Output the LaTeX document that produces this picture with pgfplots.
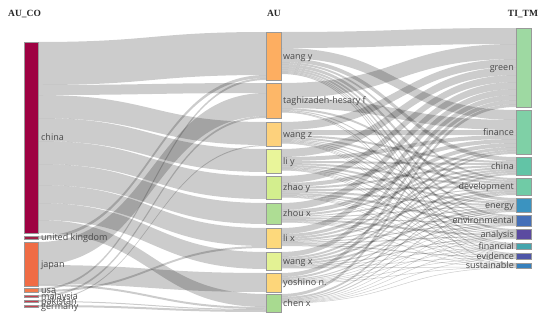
\documentclass[border=0pt]{standalone}
\usepackage{pgfplots}
\pgfplotsset{compat=1.18}
\usepackage{fontspec}
\setmainfont{Open Sans}
\newfontfamily\titlefont{Liberation Serif}
\definecolor{lab}{RGB}{72,72,72}
% left column colours
\definecolor{cChina}{HTML}{9E0142}
\definecolor{cUK}{HTML}{A01F45}
\definecolor{cJapan}{HTML}{F06C45}
\definecolor{cUSA}{HTML}{F27B4C}
\definecolor{cMal}{HTML}{C8404F}
\definecolor{cPak}{HTML}{C23B4C}
\definecolor{cGer}{HTML}{C4424F}
% middle column colours
\definecolor{cWangy}{HTML}{FDAE61}
\definecolor{cTaghi}{HTML}{FDB768}
\definecolor{cWangz}{HTML}{FDD17C}
\definecolor{cLiy}{HTML}{E9F59A}
\definecolor{cZhaoy}{HTML}{D3EE8E}
\definecolor{cZhoux}{HTML}{AEDD94}
\definecolor{cLix}{HTML}{FDD97C}
\definecolor{cWangx}{HTML}{E3F294}
\definecolor{cYosh}{HTML}{FDD67A}
\definecolor{cChenx}{HTML}{A8DA90}
% right column colours
\definecolor{tGreen}{HTML}{9ED9A2}
\definecolor{tFin}{HTML}{7FD0A6}
\definecolor{tChina}{HTML}{62C4A6}
\definecolor{tDev}{HTML}{70CBA6}
\definecolor{tEne}{HTML}{3B93C0}
\definecolor{tEnv}{HTML}{4570B8}
\definecolor{tAna}{HTML}{5B4BA0}
\definecolor{tFinl}{HTML}{45A5AD}
\definecolor{tEvi}{HTML}{4E56A8}
\definecolor{tSus}{HTML}{3680BC}

\tikzset{linkc/.style={fill=black,fill opacity=0.2,draw=none},
  lbl/.style={font=\fontsize{9}{9}\selectfont,text=lab,inner sep=0pt,text height=1.45ex,text depth=0.3ex},
  ttl/.style={font=\titlefont\bfseries\fontsize{9.5}{9.5}\selectfont,text=black!85,inner sep=0pt}}

\makeatletter
\newcommand\initnode[2]{\expandafter\xdef\csname nout@#1\endcsname{#2}\expandafter\xdef\csname nin@#1\endcsname{#2}}
\gdef\linklist{}
\newcommand\addlink[5]{%
  \edef\ys{\csname nout@#3\endcsname}%
  \edef\yt{\csname nin@#4\endcsname}%
  \pgfmathsetmacro\ysb{\ys+#5}%
  \pgfmathsetmacro\ytb{\yt+#5}%
  \pgfmathsetmacro\xm{(#1+#2)/2}%
  \expandafter\xdef\csname nout@#3\endcsname{\ysb}%
  \expandafter\xdef\csname nin@#4\endcsname{\ytb}%
  \xdef\linklist{\unexpanded\expandafter{\linklist}\noexpand\fill[linkc] (axis cs:#1,\ys) .. controls (axis cs:\xm,\ys) and (axis cs:\xm,\yt) .. (axis cs:#2,\yt) -- (axis cs:#2,\ytb) .. controls (axis cs:\xm,\ytb) and (axis cs:\xm,\ysb) .. (axis cs:#1,\ysb) -- cycle;}%
}
\makeatother

\initnode{china}{42}\initnode{uk}{236}\initnode{japan}{242}\initnode{usa}{288}
\initnode{malaysia}{295}\initnode{pakistan}{300}\initnode{germany}{305}
\initnode{wangy}{32}\initnode{taghi}{83}\initnode{wangz}{122}\initnode{liy}{149}
\initnode{zhaoy}{176}\initnode{zhoux}{203}\initnode{lix}{228}\initnode{wangx}{252}
\initnode{yoshino}{273}\initnode{chenx}{294}
\initnode{G}{28}\initnode{F}{110}\initnode{C}{157}\initnode{D}{178}\initnode{E}{198}
\initnode{Env}{215}\initnode{A}{229}\initnode{Fl}{243}\initnode{Ev}{253}\initnode{S}{263}

% AU_CO -> AU flows
\foreach \s/\t/\w in {china/wangy/43, china/taghi/10, china/wangz/23, china/liy/23,
  china/zhaoy/23, china/zhoux/21, china/lix/18, china/wangx/17, china/chenx/13,
  uk/wangy/3, japan/taghi/23, japan/yoshino/19, japan/chenx/2,
  usa/wangy/2, usa/lix/2, malaysia/taghi/2, pakistan/wangz/1, pakistan/chenx/1,
  germany/chenx/2}{\addlink{38}{266}{\s}{\t}{\w}}

% AU -> TI_TM flows
\foreach \s/\t/\w in {
  wangy/G/16, wangy/F/10, wangy/C/4, wangy/D/2, wangy/E/3, wangy/Env/2, wangy/A/2, wangy/Fl/1, wangy/Ev/1, wangy/S/1,
  taghi/G/15, taghi/F/10, taghi/D/2, taghi/Env/1, taghi/Fl/1, taghi/Ev/0.5,
  wangz/G/8, wangz/F/5, wangz/C/2, wangz/D/2, wangz/E/1, wangz/Env/1, wangz/A/1, wangz/Fl/0.5, wangz/Ev/0.5, wangz/S/0.5,
  liy/G/8, liy/F/4, liy/C/2, liy/D/2, liy/E/2, liy/Env/1, liy/A/1, liy/Fl/0.5, liy/Ev/0.5, liy/S/0.5,
  zhaoy/G/7, zhaoy/F/4, zhaoy/C/2, zhaoy/D/2, zhaoy/E/2, zhaoy/Env/2, zhaoy/A/1, zhaoy/Fl/0.5, zhaoy/Ev/0.5, zhaoy/S/0.5,
  zhoux/G/7, zhoux/F/4, zhoux/C/2, zhoux/D/1, zhoux/E/1, zhoux/Env/1, zhoux/A/2, zhoux/Fl/0.5, zhoux/Ev/0.5, zhoux/S/0.5,
  lix/G/6, lix/F/3, lix/C/2, lix/D/2, lix/E/1, lix/Env/1, lix/A/1, lix/Fl/0.5, lix/Ev/1, lix/S/0.5,
  wangx/G/5, wangx/F/2, wangx/C/2, wangx/D/2, wangx/E/2, wangx/Env/1, wangx/A/1, wangx/Fl/0.5, wangx/Ev/0.5, wangx/S/0.5,
  yoshino/G/4, yoshino/F/2, yoshino/D/1, yoshino/E/1, yoshino/Env/0.5, yoshino/A/0.5, yoshino/Fl/0.5, yoshino/Ev/0.5, yoshino/S/0.5,
  chenx/G/3, chenx/C/2, chenx/D/1, chenx/E/1, chenx/Env/0.5, chenx/A/0.5, chenx/Fl/0.5, chenx/Ev/0.5, chenx/S/0.5
  }{\addlink{281}{516}{\s}{\t}{\w}}

\newcommand\nodebar[5]{\addplot[fill=#5,draw=black!40,line width=0.35pt] coordinates {(#1,#3) (#2,#3) (#2,#4) (#1,#4)} -- cycle;}

\begin{document}
\begin{tikzpicture}
\begin{axis}[x=1pt,y=1pt,xmin=0,xmax=550,ymin=0,ymax=316,y dir=reverse,
  hide axis,clip=false]
\addplot[draw=none,forget plot] coordinates {(0,0) (550,316)};
\linklist
% AU_CO nodes
\nodebar{24}{38}{42}{233}{cChina}
\nodebar{24}{38}{236}{239}{cUK}
\nodebar{24}{38}{242}{286}{cJapan}
\nodebar{24}{38}{288}{292.5}{cUSA}
\nodebar{24}{38}{295}{297}{cMal}
\nodebar{24}{38}{300}{302}{cPak}
\nodebar{24}{38}{305}{307}{cGer}
% AU nodes
\nodebar{266}{281}{32}{80}{cWangy}
\nodebar{266}{281}{83}{118}{cTaghi}
\nodebar{266}{281}{122}{146}{cWangz}
\nodebar{266}{281}{149}{173}{cLiy}
\nodebar{266}{281}{176}{199}{cZhaoy}
\nodebar{266}{281}{203}{224}{cZhoux}
\nodebar{266}{281}{228}{248}{cLix}
\nodebar{266}{281}{252}{270}{cWangx}
\nodebar{266}{281}{273}{292}{cYosh}
\nodebar{266}{281}{294}{312}{cChenx}
% TI_TM nodes
\nodebar{516}{531}{28}{107}{tGreen}
\nodebar{516}{531}{110}{154}{tFin}
\nodebar{516}{531}{157}{175}{tChina}
\nodebar{516}{531}{178}{195}{tDev}
\nodebar{516}{531}{198}{212}{tEne}
\nodebar{516}{531}{215}{226}{tEnv}
\nodebar{516}{531}{229}{239}{tAna}
\nodebar{516}{531}{243}{249}{tFinl}
\nodebar{516}{531}{253}{259}{tEvi}
\nodebar{516}{531}{263}{268}{tSus}
% titles
\node[ttl,anchor=base west] at (axis cs:8,16.5) {AU\_CO};
\node[ttl,anchor=base] at (axis cs:274,16.5) {AU};
\node[ttl,anchor=base] at (axis cs:523,16.5) {TI\_TM};
% left labels
\node[lbl,anchor=west] at (axis cs:41,137.5) {china};
\node[lbl,anchor=west] at (axis cs:41,237.5) {united kingdom};
\node[lbl,anchor=west] at (axis cs:41,264) {japan};
\node[lbl,anchor=west] at (axis cs:41,290.5) {usa};
\node[lbl,anchor=west] at (axis cs:41,296) {malaysia};
\node[lbl,anchor=west] at (axis cs:41,301) {pakistan};
\node[lbl,anchor=west] at (axis cs:41,306) {germany};
% middle labels
\node[lbl,anchor=west] at (axis cs:283,56) {wang y};
\node[lbl,anchor=west] at (axis cs:283,100.5) {taghizadeh-hesary f};
\node[lbl,anchor=west] at (axis cs:283,134) {wang z};
\node[lbl,anchor=west] at (axis cs:283,161) {li y};
\node[lbl,anchor=west] at (axis cs:283,187.5) {zhao y};
\node[lbl,anchor=west] at (axis cs:283,213.5) {zhou x};
\node[lbl,anchor=west] at (axis cs:283,238) {li x};
\node[lbl,anchor=west] at (axis cs:283,261) {wang x};
\node[lbl,anchor=west] at (axis cs:283,282.5) {yoshino n.};
\node[lbl,anchor=west] at (axis cs:283,303) {chen x};
% right labels
\node[lbl,anchor=east] at (axis cs:514,67.5) {green};
\node[lbl,anchor=east] at (axis cs:514,132) {finance};
\node[lbl,anchor=east] at (axis cs:514,166) {china};
\node[lbl,anchor=east] at (axis cs:514,186.5) {development};
\node[lbl,anchor=east] at (axis cs:514,205) {energy};
\node[lbl,anchor=east] at (axis cs:514,220.5) {environmental};
\node[lbl,anchor=east] at (axis cs:514,234) {analysis};
\node[lbl,anchor=east] at (axis cs:514,246) {financial};
\node[lbl,anchor=east] at (axis cs:514,256) {evidence};
\node[lbl,anchor=east] at (axis cs:514,265.5) {sustainable};
\end{axis}
\end{tikzpicture}
\end{document}
